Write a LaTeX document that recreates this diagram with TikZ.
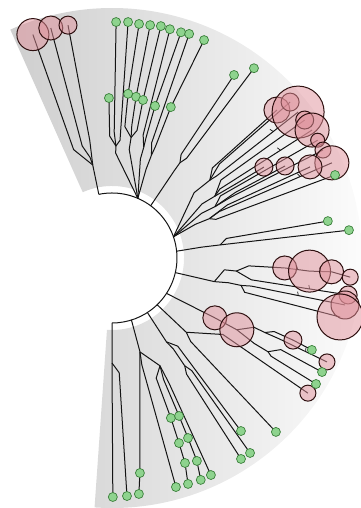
\documentclass[tikz,border=0pt]{standalone}
\usepackage{tikz}
\usetikzlibrary{calc}
\definecolor{tipred}{HTML}{E0909A}
\definecolor{tipredline}{HTML}{2E1010}
\definecolor{tipgreen}{HTML}{8ED38E}
\definecolor{tipgreenline}{HTML}{3A7F3A}
\tikzset{
  branch/.style={line width=1pt, color=black!92},
  redtip/.style={circle, draw=tipredline, line width=1pt, fill=tipred,
    fill opacity=0.5, inner sep=0pt, outer sep=0pt},
  greentip/.style={circle, draw=tipgreenline, line width=0.7pt, fill=tipgreen,
    inner sep=0pt, minimum size=9pt}
}
% chord from parent, then radial out to child
\newcommand\treeedge[3][10]{%
  \draw[branch] let \p1=(#2), \p2=(#3), \n1={atan2(\y2,\x2)},
    \n2={veclen(\x1,\y1)+#1} in (#2) -- (\n1:\n2) -- (#3);}

\begin{document}
\begin{tikzpicture}[x=1pt, y=1pt]
  \useasboundingbox (-112,-250) rectangle (248,258);
  % background fan
  \shade[left color=black!19, right color=black!1]
    (114:72) arc[start angle=114, end angle=-94, radius=72]
    -- (-94:250) arc[start angle=-94, end angle=114, radius=250] -- cycle;

  % points on the root arc
  \coordinate (rA) at (101.7:65);
  \coordinate (rG) at (66.6:65);
  \coordinate (rH) at (53.5:65);
  \coordinate (rB) at (19:65);
  \coordinate (rI) at (6:65);
  \coordinate (rC) at (-13:65);
  \coordinate (rD) at (-33:65);
  \coordinate (rE4) at (-46:65);
  \coordinate (rE3) at (-57:65);
  \coordinate (rE2) at (-72.6:65);
  \coordinate (rE1) at (-90:65);
  \draw[branch] (rA) arc[start angle=101.7, end angle=-90, radius=65];

  % clade A
  \coordinate (nA) at (101.7:95);
  \coordinate (nA2) at (102.3:103);
  \coordinate (a1) at (109.5:237);
  \coordinate (a2) at (104.9:238);
  \coordinate (a3) at (100.7:237);
  \draw[branch] (rA) -- (nA) -- (nA2);
  \treeedge[20]{nA}{a1}
  \treeedge[13]{nA2}{a2}
  \treeedge[25]{nA}{a3}

  % clade G
  \coordinate (nG1) at (88:112);
  \coordinate (nG2) at (81:122);
  \coordinate (nG3) at (74:115);
  \coordinate (nG4) at (69:110);
  \coordinate (g12) at (91.1:160);
  \coordinate (g1) at (89:236);
  \coordinate (g2) at (86.1:236.5);
  \coordinate (g3) at (83.4:235.6);
  \coordinate (g4) at (80.7:236);
  \coordinate (g5) at (78.1:237);
  \coordinate (g6) at (75.8:236);
  \coordinate (g7) at (73:236);
  \coordinate (g8) at (71:237);
  \coordinate (g9) at (67.1:236.6);
  \coordinate (m13) at (84.4:165);
  \coordinate (m14) at (81.5:163);
  \coordinate (m15) at (78.9:161);
  \coordinate (m16) at (74.2:158);
  \coordinate (m17) at (68.7:162);
  \treeedge[40]{rG}{nG1}
  \treeedge[45]{rG}{nG2}
  \treeedge[38]{rG}{nG3}
  \treeedge[30]{rG}{nG4}
  \treeedge[10]{nG1}{g12}
  \treeedge[14]{nG1}{g1}
  \treeedge[6]{nG1}{g2}
  \treeedge[10]{nG2}{m13}
  \treeedge[12]{nG2}{m14}
  \treeedge[8]{nG2}{m15}
  \treeedge[12]{nG3}{g6}
  \treeedge[10]{nG3}{m16}
  \treeedge[12]{nG4}{g8}
  \treeedge[10]{nG4}{m17}
  \draw[branch] (m13) -- (g3) (m14) -- (g4) (m15) -- (g5)
    (m16) -- (g7) (m17) -- (g9);

  % clade H
  \coordinate (nH) at (54.5:117);
  \coordinate (g10) at (56.3:220);
  \coordinate (g11) at (53.2:237);
  \treeedge[42]{rH}{nH}
  \treeedge[8]{nH}{g10}
  \treeedge[8]{nH}{g11}

  % clade B
  \coordinate (nB1) at (38.5:125);
  \coordinate (nB2) at (31:120);
  \coordinate (nB3) at (26.5:115);
  \coordinate (nB4) at (22:105);
  \coordinate (b1) at (41.9:221.6);
  \coordinate (b2) at (41.2:236.7);
  \coordinate (b3) at (38.1:236.5);
  \coordinate (b4) at (35.6:237);
  \coordinate (b5) at (32.6:237.5);
  \coordinate (b6) at (29.8:237);
  \coordinate (b7) at (27.1:237);
  \coordinate (b8) at (23.4:239.6);
  \coordinate (b9) at (24.7:218);
  \coordinate (b10) at (30.9:177);
  \coordinate (b11) at (28:196);
  \coordinate (gB) at (20.4:238);
  \treeedge[40]{rB}{nB1}
  \treeedge[40]{rB}{nB2}
  \treeedge[35]{rB}{nB3}
  \treeedge[25]{rB}{nB4}
  \treeedge[10]{nB1}{b1}
  \treeedge[18]{nB1}{b2}
  \treeedge[8]{nB1}{b3}
  \treeedge[14]{nB2}{b4}
  \treeedge[8]{nB2}{b5}
  \treeedge[25]{nB2}{b10}
  \treeedge[10]{nB3}{b6}
  \treeedge[25]{nB3}{b11}
  \treeedge[18]{nB3}{b7}
  \treeedge[12]{nB4}{b8}
  \treeedge[22]{nB4}{b9}
  \treeedge[6]{nB4}{gB}

  % clade I
  \coordinate (nI) at (6.9:109);
  \coordinate (gI1) at (9.7:219);
  \coordinate (gI2) at (6.7:238.6);
  \treeedge[25]{rI}{nI}
  \treeedge[7]{nI}{gI1}
  \draw[branch] (nI) -- (gI2);

  % clade C
  \coordinate (nC) at (-13:105);
  \coordinate (nC1) at (-6:125);
  \coordinate (nC2) at (-12:132);
  \coordinate (c1) at (-3.3:173);
  \coordinate (c2) at (-3.8:198);
  \coordinate (c3) at (-3.6:220);
  \coordinate (c4) at (-4.6:239);
  \coordinate (c5) at (-8.9:239);
  \coordinate (c6) at (-11.4:237.7);
  \coordinate (c7) at (-14.5:235.5);
  \treeedge[25]{rC}{nC}
  \treeedge[8]{nC}{nC1}
  \treeedge[14]{nC}{nC2}
  \treeedge[12]{nC1}{c1}
  \draw[branch] (c1) -- (c2) -- (c3) -- (c4);
  \treeedge[16]{nC1}{c5}
  \treeedge[10]{nC2}{c6}
  \treeedge[5]{nC2}{c7}

  % clade D
  \coordinate (d1) at (-30.2:119);
  \coordinate (d2) at (-29.9:144);
  \coordinate (nD1) at (-26:170);
  \coordinate (nD2) at (-31:182);
  \coordinate (d3) at (-24.4:198.7);
  \coordinate (gD1) at (-24.7:220);
  \coordinate (d4) at (-25.8:238.8);
  \coordinate (gD2) at (-28.5:239);
  \coordinate (gD3) at (-31.7:239.8);
  \draw[branch] (rD) -- (d1) -- (d2);
  \treeedge[14]{d2}{nD1}
  \treeedge[8]{nD1}{d3}
  \draw[branch] (d3) -- (gD1);
  \treeedge[16]{nD1}{d4}
  \treeedge[22]{d2}{nD2}
  \treeedge[10]{nD2}{gD2}
  \treeedge[5]{nD2}{gD3}

  % clade E4
  \coordinate (nE4) at (-45:105);
  \coordinate (d5) at (-34.6:238);
  \coordinate (e18) at (-46.7:239);
  \draw[branch] (rE4) -- (nE4);
  \treeedge[30]{nE4}{d5}
  \treeedge[10]{nE4}{e18}

  % clade E3
  \coordinate (nE3) at (-57:100);
  \coordinate (nE3b) at (-56:130);
  \coordinate (e15) at (-53.3:215.8);
  \coordinate (e16) at (-57.3:238.8);
  \coordinate (e17) at (-54.7:238.9);
  \draw[branch] (rE3) -- (nE3);
  \treeedge[10]{nE3}{e15}
  \treeedge[10]{nE3}{nE3b}
  \treeedge[8]{nE3b}{e16}
  \treeedge[8]{nE3b}{e17}

  % clade E2
  \coordinate (nE2) at (-73.4:98);
  \coordinate (nE2b) at (-66:118);
  \coordinate (e3) at (-83.5:237.5);
  \coordinate (e4) at (-82.6:216.8);
  \coordinate (e11) at (-74.4:237.8);
  \coordinate (e12) at (-71.4:238.4);
  \coordinate (e13) at (-68.2:239);
  \coordinate (e14) at (-65.5:238.5);
  \coordinate (e5) at (-69.8:170.5);
  \coordinate (e7) at (-70.1:196.8);
  \coordinate (e9) at (-70.4:217.6);
  \coordinate (e6) at (-67:171.6);
  \coordinate (e8) at (-67.1:195.4);
  \coordinate (e10) at (-67.3:220);
  \draw[branch] (rE2) -- (nE2) -- (e4) -- (e3);
  \treeedge[13]{nE2}{e11}
  \draw[branch] (nE2) -- (nE2b);
  \treeedge[10]{nE2b}{e5}
  \treeedge[14]{nE2b}{e6}
  \treeedge[20]{nE2b}{e14}
  \draw[branch] (e5) -- (e7) -- (e9) -- (e12);
  \draw[branch] (e6) -- (e8) -- (e10) -- (e13);

  % clade E1
  \coordinate (nE1) at (-90:105);
  \coordinate (e1) at (-89.8:239);
  \coordinate (e2) at (-86.4:238.5);
  \draw[branch] (rE1) -- (nE1) -- (e1);
  \treeedge[10]{nE1}{e2}

  % small node ticks
  \foreach \t/\r in {-3.5/186, -3.7/209, -8.9/200, -11.4/190, -30/131,
                     32.6/200, 38.1/205, 23.4/205, -25.8/215}
    \draw[branch, line width=0.7pt] (\t:\r) -- ++(\t+110:4);

  % tips
  \foreach \n/\s in {a1/16, a2/12, a3/9, b1/13, b2/9, b3/26, b4/9, b5/17,
                     b6/7, b7/8, b8/17, b9/12, b10/9, b11/9, c1/12, c2/21,
                     c3/12, c4/8, c5/9, c6/14, c7/23, d1/12, d2/17, d3/9,
                     d4/8, d5/8}
    \node[redtip, minimum size=\s*2pt] (tip-\n) at (\n) {};
  \foreach \n in {g1, g2, g3, g4, g5, g6, g7, g8, g9, g10, g11, g12,
                  m13, m14, m15, m16, m17, gB, gI1, gI2, gD1, gD2, gD3,
                  e1, e2, e3, e4, e5, e6, e7, e8, e9, e10, e11, e12, e13,
                  e14, e15, e16, e17, e18}
    \node[greentip] (tip-\n) at (\n) {};
\end{tikzpicture}
\end{document}
